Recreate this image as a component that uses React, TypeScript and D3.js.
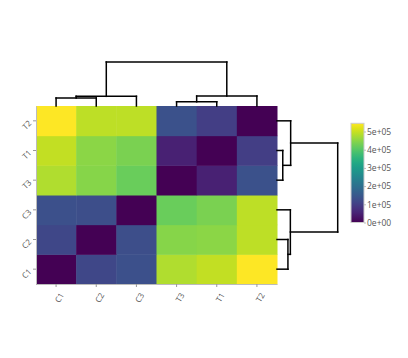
import React, { useRef, useEffect } from "react";
import * as d3 from "d3";

// column order (left to right) and row order (bottom to top)
const labels = ["C1", "C2", "C3", "T3", "T1", "T2"];

// pairwise distances (upper triangle, same order as labels)
const distances: [string, string, number][] = [
  ["C1", "C2", 115000],
  ["C1", "C3", 134000],
  ["C2", "C3", 128000],
  ["C1", "T3", 480000],
  ["C1", "T1", 496000],
  ["C1", "T2", 545000],
  ["C2", "T3", 447000],
  ["C2", "T1", 450000],
  ["C2", "T2", 490000],
  ["C3", "T3", 420000],
  ["C3", "T1", 436000],
  ["C3", "T2", 490000],
  ["T3", "T1", 50000],
  ["T3", "T2", 136000],
  ["T1", "T2", 98000],
];

// clustering merges: [left, right, relative height]; merged nodes are named "m0", "m1", ...
const merges: [string, string, number][] = [
  ["C1", "C2", 0.18],
  ["m0", "C3", 0.22],
  ["T3", "T1", 0.095],
  ["m2", "T2", 0.225],
  ["m1", "m3", 1],
];

const colorMax = 545000;
const colorTicks = [0, 100000, 200000, 300000, 400000, 500000];

function fmtExp(v: number) {
  const [m, e] = v.toExponential(0).split("e");
  const sign = e[0];
  const digits = e.slice(1).padStart(2, "0");
  return m + "e" + sign + digits;
}

// returns list of segments in (position, height) space
function dendroSegments(pos: (k: string) => number) {
  const nodes: Record<string, { p: number; h: number }> = {};
  labels.forEach((l) => (nodes[l] = { p: pos(l), h: 0 }));
  const segs: { p1: number; h1: number; p2: number; h2: number }[] = [];
  merges.forEach(([a, b, h], i) => {
    const na = nodes[a];
    const nb = nodes[b];
    segs.push({ p1: na.p, h1: na.h, p2: na.p, h2: h });
    segs.push({ p1: na.p, h1: h, p2: nb.p, h2: h });
    segs.push({ p1: nb.p, h1: h, p2: nb.p, h2: nb.h });
    nodes["m" + i] = { p: (na.p + nb.p) / 2, h: h };
  });
  return segs;
}

const App = () => {
  const ref = useRef<SVGSVGElement>(null);

  useEffect(() => {
    if (!ref.current) return;
    const svg = d3.select(ref.current);
    svg.selectAll("*").remove();

    const left = 36;
    const right = 277;
    const top = 106;
    const bottom = 284;

    const x = d3.scaleBand<string>().domain(labels).range([left, right]);
    const y = d3.scaleBand<string>().domain(labels).range([bottom, top]);
    const color = d3.scaleSequential(d3.interpolateViridis).domain([0, colorMax]);

    const dist = (a: string, b: string) => {
      if (a === b) return 0;
      const d = distances.find((r) => (r[0] === a && r[1] === b) || (r[0] === b && r[1] === a));
      return d ? d[2] : 0;
    };

    const cells: { r: string; c: string; v: number }[] = [];
    labels.forEach((r) => labels.forEach((c) => cells.push({ r, c, v: dist(r, c) })));

    svg
      .append("g")
      .selectAll("rect")
      .data(cells)
      .join("rect")
      .attr("x", (d) => x(d.c)!)
      .attr("y", (d) => y(d.r)!)
      .attr("width", x.bandwidth() + 0.5)
      .attr("height", y.bandwidth() + 0.5)
      .attr("fill", (d) => color(d.v));

    // axes
    const fontFamily = "'Open Sans', 'Liberation Sans', sans-serif";
    const xAxis = svg
      .append("g")
      .attr("transform", `translate(0,${bottom})`)
      .call(d3.axisBottom(x).tickSize(3).tickSizeOuter(0));
    xAxis.select(".domain").attr("stroke", "#bbb");
    xAxis.selectAll(".tick line").attr("stroke", "#999");
    xAxis
      .selectAll(".tick text")
      .attr("font-family", fontFamily)
      .attr("font-size", 8)
      .attr("fill", "#555")
      .attr("text-anchor", "end")
      .attr("dy", 0)
      .attr("transform", "translate(3,8) rotate(-60)");

    const yAxis = svg
      .append("g")
      .attr("transform", `translate(${left},0)`)
      .call(d3.axisLeft(y).tickSize(3).tickSizeOuter(0));
    yAxis.select(".domain").attr("stroke", "#bbb");
    yAxis.selectAll(".tick line").attr("stroke", "#999");
    yAxis
      .selectAll(".tick text")
      .attr("font-family", fontFamily)
      .attr("font-size", 8)
      .attr("fill", "#555")
      .attr("text-anchor", "end")
      .attr("dy", 0)
      .attr("x", 0)
      .attr("transform", "translate(-4,3) rotate(-45)");

    // top dendrogram
    const hTop = d3.scaleLinear().domain([0, 1]).range([top, 62]);
    const colSegs = dendroSegments((k) => x(k)! + x.bandwidth() / 2);
    svg
      .append("g")
      .selectAll("line")
      .data(colSegs)
      .join("line")
      .attr("x1", (d) => d.p1)
      .attr("x2", (d) => d.p2)
      .attr("y1", (d) => hTop(d.h1))
      .attr("y2", (d) => hTop(d.h2))
      .attr("stroke", "#000")
      .attr("stroke-width", 1.5)
      .attr("stroke-linecap", "square");

    // right dendrogram
    const hRight = d3.scaleLinear().domain([0, 1]).range([right, 337.7]);
    const rowSegs = dendroSegments((k) => y(k)! + y.bandwidth() / 2);
    svg
      .append("g")
      .selectAll("line")
      .data(rowSegs)
      .join("line")
      .attr("y1", (d) => d.p1)
      .attr("y2", (d) => d.p2)
      .attr("x1", (d) => hRight(d.h1))
      .attr("x2", (d) => hRight(d.h2))
      .attr("stroke", "#000")
      .attr("stroke-width", 1.5)
      .attr("stroke-linecap", "square");

    // colour bar
    const cb = { x: 351, w: 13, top: 123.3, bottom: 222.5 };
    const cScale = d3.scaleLinear().domain([0, colorMax]).range([cb.bottom, cb.top]);
    const defs = svg.append("defs");
    const grad = defs
      .append("linearGradient")
      .attr("id", "cbgrad")
      .attr("x1", 0)
      .attr("x2", 0)
      .attr("y1", 1)
      .attr("y2", 0);
    d3.range(0, 1.0001, 0.05).forEach((t) => {
      grad
        .append("stop")
        .attr("offset", t)
        .attr("stop-color", d3.interpolateViridis(t));
    });
    svg
      .append("rect")
      .attr("x", cb.x)
      .attr("y", cb.top)
      .attr("width", cb.w)
      .attr("height", cb.bottom - cb.top)
      .attr("fill", "url(#cbgrad)")
      .attr("stroke", "#ccc")
      .attr("stroke-width", 1);

    const cAxis = svg
      .append("g")
      .attr("transform", `translate(${cb.x + cb.w},0)`)
      .call(
        d3
          .axisRight(cScale)
          .tickValues(colorTicks)
          .tickSize(2)
          .tickFormat((d) => fmtExp(+d))
      );
    cAxis.select(".domain").remove();
    cAxis.selectAll(".tick line").attr("stroke", "#bbb");
    cAxis
      .selectAll(".tick text")
      .attr("font-family", fontFamily)
      .attr("font-size", 8.5)
      .attr("fill", "#555")
      .attr("x", 3);
  }, []);

  return (
    <svg
      ref={ref}
      width={408}
      height={358}
      style={{ position: "absolute", left: 0, top: 0, background: "#fff" }}
    />
  );
};

export default App;
